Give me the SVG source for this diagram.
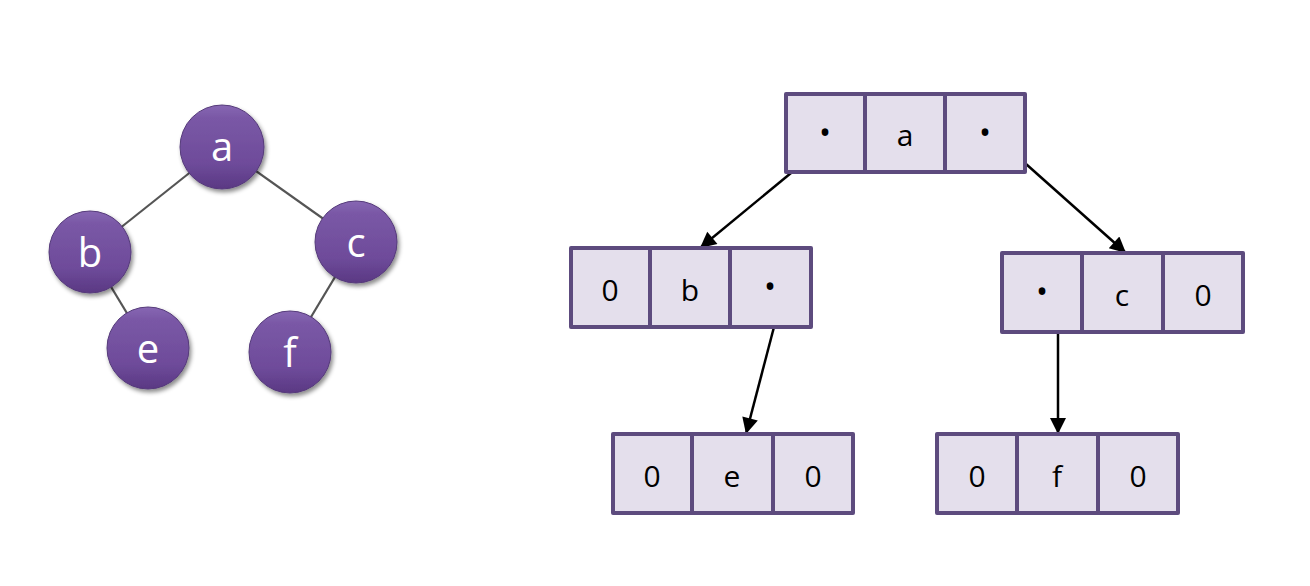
<svg xmlns="http://www.w3.org/2000/svg" width="1310" height="586" viewBox="0 0 1310 586">
<defs>
<linearGradient id="ball" x1="0" y1="0" x2="0" y2="1">
<stop offset="0" stop-color="#8767b3"/>
<stop offset="0.15" stop-color="#7a58a6"/>
<stop offset="0.7" stop-color="#6e4b9a"/>
<stop offset="1" stop-color="#5a3883"/>
</linearGradient>
<filter id="sh" x="-30%" y="-30%" width="170%" height="170%">
<feDropShadow dx="2" dy="3" stdDeviation="2" flood-color="#000" flood-opacity="0.45"/>
</filter>
<marker id="arr" viewBox="0 0 10 10" refX="10" refY="5" markerUnits="userSpaceOnUse" markerWidth="19" markerHeight="16" orient="auto">
<path d="M0,0 L10,5 L0,10 z" fill="#000"/>
</marker>
</defs>
<style>
.edge{stroke:#555;stroke-width:2.2;fill:none}
.ball{fill:url(#ball);stroke:#553a7a;stroke-width:1;filter:url(#sh)}
.bl{font-family:"Open Sans","Liberation Sans",sans-serif;font-size:40px;fill:#fff;text-anchor:middle}
.box{fill:#e4dfec;stroke:#5d4b7e;stroke-width:4;stroke-linejoin:round}
.div{stroke:#5d4b7e;stroke-width:4}
.t{font-family:"Open Sans","Liberation Sans",sans-serif;font-size:30px;fill:#000;text-anchor:middle}
.d{font-family:"Open Sans","Liberation Sans",sans-serif;font-size:32px;fill:#000;text-anchor:middle}
.arrow{stroke:#000;stroke-width:2.5;fill:none;marker-end:url(#arr)}
</style>
<rect width="1310" height="586" fill="#fff"/>

<g id="tree-edges">
<line class="edge" x1="222" y1="147" x2="90" y2="252"/>
<line class="edge" x1="222" y1="147" x2="356" y2="242"/>
<line class="edge" x1="90" y1="252" x2="148" y2="348"/>
<line class="edge" x1="356" y1="242" x2="290" y2="352"/>
</g>

<g id="node-a"><circle class="ball" cx="222" cy="147" r="42"/><text class="bl" x="222" y="161">a</text></g>
<g id="node-b"><circle class="ball" cx="90" cy="252" r="41"/><text class="bl" x="90" y="267">b</text></g>
<g id="node-c"><circle class="ball" cx="356" cy="242" r="41"/><text class="bl" x="356" y="257">c</text></g>
<g id="node-e"><circle class="ball" cx="148" cy="348" r="41"/><text class="bl" x="148" y="363">e</text></g>
<g id="node-f"><circle class="ball" cx="290" cy="352" r="41"/><text class="bl" x="290" y="367">f</text></g>

<g id="connectors">
<line class="arrow" x1="791" y1="173" x2="700" y2="248"/>
<line class="arrow" x1="1026" y1="164" x2="1126" y2="253"/>
<line class="arrow" x1="774" y1="327" x2="746" y2="434"/>
<line class="arrow" x1="1058" y1="332" x2="1058" y2="434"/>
</g>

<g id="box-a">
<rect class="box" x="786" y="94" width="239" height="78"/>
<line class="div" x1="865" y1="94" x2="865" y2="172"/>
<line class="div" x1="945" y1="94" x2="945" y2="172"/>
<text class="d" x="825" y="144">•</text>
<text class="t" x="905" y="146">a</text>
<text class="d" x="985" y="144">•</text>
</g>

<g id="box-b">
<rect class="box" x="571" y="248" width="240" height="79"/>
<line class="div" x1="650" y1="248" x2="650" y2="327"/>
<line class="div" x1="730" y1="248" x2="730" y2="327"/>
<text class="t" x="610" y="301">0</text>
<text class="t" x="690" y="301">b</text>
<text class="d" x="770" y="298">•</text>
</g>

<g id="box-c">
<rect class="box" x="1002" y="253" width="241" height="79"/>
<line class="div" x1="1082" y1="253" x2="1082" y2="332"/>
<line class="div" x1="1163" y1="253" x2="1163" y2="332"/>
<text class="d" x="1042" y="303">•</text>
<text class="t" x="1122" y="306">c</text>
<text class="t" x="1203" y="306">0</text>
</g>

<g id="box-e">
<rect class="box" x="613" y="434" width="240" height="79"/>
<line class="div" x1="692" y1="434" x2="692" y2="513"/>
<line class="div" x1="773" y1="434" x2="773" y2="513"/>
<text class="t" x="652" y="487">0</text>
<text class="t" x="732" y="487">e</text>
<text class="t" x="813" y="487">0</text>
</g>

<g id="box-f">
<rect class="box" x="937" y="434" width="241" height="79"/>
<line class="div" x1="1017" y1="434" x2="1017" y2="513"/>
<line class="div" x1="1098" y1="434" x2="1098" y2="513"/>
<text class="t" x="977" y="487">0</text>
<text class="t" x="1057" y="487">f</text>
<text class="t" x="1138" y="487">0</text>
</g>
</svg>
